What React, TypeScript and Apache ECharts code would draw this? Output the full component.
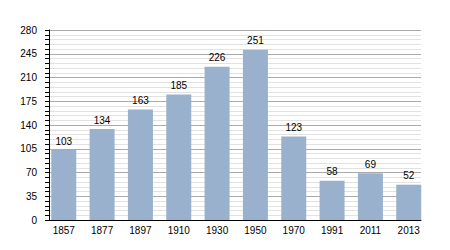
import React, { useEffect, useRef } from "react";
import * as echarts from "echarts";

const years = ["1857", "1877", "1897", "1910", "1930", "1950", "1970", "1991", "2011", "2013"];
const population = [103, 134, 163, 185, 226, 251, 123, 58, 69, 52];
const yMin = 0;
const yMax = 280;
const yInterval = 35;

export default function App() {
  const ref = useRef<HTMLDivElement>(null);
  useEffect(() => {
    if (!ref.current) return;
    document.body.style.margin = "0";
    const chart = echarts.init(ref.current, null, { renderer: "svg" });
    const font = "'Liberation Sans', Arial, sans-serif";
    chart.setOption({
      animation: false,
      backgroundColor: "#ffffff",
      grid: [
        { left: 49, right: 29, top: 30, bottom: 30 },
        { left: 44.6, right: 22.1, top: 30, bottom: 30 },
      ],
      xAxis: [
        {
          gridIndex: 0,
          type: "value",
          min: 0,
          max: 1,
          axisLine: { show: true, lineStyle: { color: "#000", width: 1 } },
          axisTick: { show: false },
          axisLabel: { show: false },
          splitLine: { show: false },
        },
        {
          gridIndex: 1,
          type: "category",
          data: years,
          axisLine: { show: false },
          axisTick: { show: false },
          axisLabel: { color: "#000", fontSize: 10, fontFamily: font, margin: 5 },
          splitLine: { show: false },
        },
      ],
      yAxis: [
        {
          gridIndex: 0,
          type: "value",
          min: yMin,
          max: yMax,
          interval: yInterval,
          axisLine: { show: true, lineStyle: { color: "#000", width: 1 } },
          axisTick: { show: true, length: 4, lineStyle: { color: "#000" } },
          minorTick: { show: true, splitNumber: 5, length: 4, lineStyle: { color: "#000" } },
          axisLabel: { color: "#000", fontSize: 10, fontFamily: font, margin: 12 },
          splitLine: { show: true, lineStyle: { color: "#aaaaaa", width: 1 } },
          minorSplitLine: { show: true, lineStyle: { color: "#e2e2e2", width: 1 } },
        },
        {
          gridIndex: 1,
          type: "value",
          min: yMin,
          max: yMax,
          interval: yInterval,
          show: false,
          splitLine: { show: false },
        },
      ],
      series: [
        {
          type: "bar",
          xAxisIndex: 1,
          yAxisIndex: 1,
          data: population,
          barWidth: 25,
          itemStyle: { color: "#99b1cd" },
          label: {
            show: true,
            position: "top",
            distance: 4,
            color: "#000",
            fontSize: 10,
            fontFamily: font,
          },
        },
      ],
    });
    return () => chart.dispose();
  }, []);
  return <div ref={ref} style={{ width: 450, height: 250 }} />;
}
